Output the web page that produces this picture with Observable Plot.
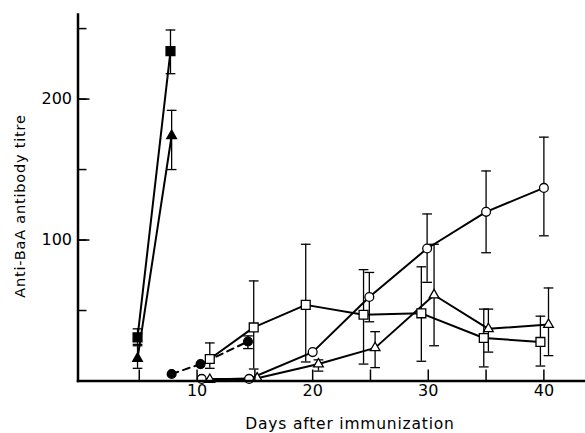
<!DOCTYPE html>
<html>
<head>
<meta charset="utf-8">
<script src="https://cdn.jsdelivr.net/npm/d3@7"></script>
<script src="https://cdn.jsdelivr.net/npm/@observablehq/plot@0.6"></script>
<style>
  html, body { margin: 0; padding: 0; background: #fff; }
  #chart svg { display: block; }
</style>
</head>
<body>
<div id="chart"></div>
<script>
// ---- data ----
const sqFilledDays = [4.85, 7.7];
const sqFilledVals = [31, 234];
const sqFilledLo = [26, 218];
const sqFilledHi = [37, 249];

const triFilledDays = [4.85, 7.8];
const triFilledVals = [16, 174];
const triFilledLo = [9, 150];
const triFilledHi = [25, 192];

const circFilledDays = [7.8, 10.3, 14.4];
const circFilledVals = [5, 12, 28];
const circFilledLo = [null, null, 23];
const circFilledHi = [null, null, 32];

const sqOpenDays = [11.1, 14.9, 19.4, 24.4, 29.4, 34.8, 39.7];
const sqOpenVals = [15.6, 38, 54, 47, 48, 30.5, 27.7];
const sqOpenLo = [9, 8.5, 13.5, 12, 14, 10, 10.6];
const sqOpenHi = [27, 71, 97, 79, 81, 51, 46];

const circOpenDays = [10.4, 14.5, 20, 24.9, 29.9, 35, 40];
const circOpenVals = [1.5, 1.5, 20.5, 59.6, 94, 120, 137];
const circOpenLo = [null, null, null, 42, 70, 91, 103];
const circOpenHi = [null, null, null, 77, 118.5, 149, 173];

const triOpenDays = [11.1, 15.2, 20.5, 25.4, 30.5, 35.2, 40.4];
const triOpenVals = [1, 2, 12, 23.5, 61, 37, 40];
const triOpenLo = [null, null, 7, 9.5, 25, 20.5, 18];
const triOpenHi = [null, null, 15, 35, 97, 51, 66];

const yTicksAll = [50, 100, 150, 200, 250];
const yTickLabels = [100, 200];
const xTicksAll = [5, 10, 15, 20, 25, 30, 35, 40];
const xTickLabels = [10, 20, 30, 40];

const xTitle = "Days after immunization";
const yTitle = "Anti-BaA antibody titre";

// ---- build series table ----
function series(name, symbol, fill, dashed, days, vals, lo, hi) {
  return days.map((d, i) => ({name, symbol, fill, dashed, day: d, value: vals[i], lo: lo[i], hi: hi[i]}));
}
const all = [
  ...series("sqF", "square", "black", false, sqFilledDays, sqFilledVals, sqFilledLo, sqFilledHi),
  ...series("triF", "triangle", "black", false, triFilledDays, triFilledVals, triFilledLo, triFilledHi),
  ...series("circF", "circle", "black", true, circFilledDays, circFilledVals, circFilledLo, circFilledHi),
  ...series("sqO", "square", "white", false, sqOpenDays, sqOpenVals, sqOpenLo, sqOpenHi),
  ...series("circO", "circle", "white", false, circOpenDays, circOpenVals, circOpenLo, circOpenHi),
  ...series("triO", "triangle", "white", false, triOpenDays, triOpenVals, triOpenLo, triOpenHi)
];
const solid = all.filter(d => !d.dashed);
const dashed = all.filter(d => d.dashed);
const errs = all.filter(d => d.lo != null && d.hi != null);
const capHalf = 0.42;
const caps = errs.flatMap(d => [{...d, cy: d.lo}, {...d, cy: d.hi}]);

const font = "'DejaVu Sans', sans-serif";

const plot = Plot.plot({
  width: 585,
  height: 433,
  marginLeft: 77.5,
  marginRight: 0,
  marginTop: 14,
  marginBottom: 52.5,
  style: {fontFamily: font, background: "white", color: "black"},
  x: {domain: [-0.3, 43.6]},
  y: {domain: [0, 260]},
  marks: [
    // error bars
    Plot.ruleX(errs, {x: "day", y1: "lo", y2: "hi", stroke: "black", strokeWidth: 1.3}),
    Plot.link(caps, {x1: d => d.day - capHalf, x2: d => d.day + capHalf, y1: "cy", y2: "cy", stroke: "black", strokeWidth: 1.3}),
    // connecting lines
    Plot.line(solid, {x: "day", y: "value", z: "name", stroke: "black", strokeWidth: 2}),
    Plot.line(dashed, {x: "day", y: "value", z: "name", stroke: "black", strokeWidth: 2, strokeDasharray: "7,5"}),
    // markers
    Plot.dot(all.filter(d => d.symbol === "circle"), {x: "day", y: "value", symbol: "circle", r: 4.4, fill: d => d.fill, stroke: "black", strokeWidth: 1.3}),
    Plot.dot(all.filter(d => d.symbol === "square"), {x: "day", y: "value", symbol: "square", r: 5, fill: d => d.fill, stroke: "black", strokeWidth: 1.3}),
    Plot.dot(all.filter(d => d.symbol === "triangle"), {x: "day", y: "value", symbol: "triangle", r: 3.6, fill: d => d.fill, stroke: "black", strokeWidth: 1.3}),
    // axes
    Plot.axisY({ticks: yTicksAll, tickSize: -9, tickFormat: () => "", strokeWidth: 1.5, label: null}),
    Plot.axisY({ticks: yTickLabels, tickSize: -12, tickPadding: 18, fontSize: 16, strokeWidth: 1.5, label: null}),
    Plot.axisX({ticks: xTicksAll, tickSize: -11, tickFormat: () => "", strokeWidth: 1.5, label: null}),
    Plot.axisX({ticks: xTickLabels, tickSize: 0, tickPadding: 4, fontSize: 16, label: null}),
    Plot.frame({anchor: "left", strokeWidth: 2.5, stroke: "black"}),
    Plot.frame({anchor: "bottom", strokeWidth: 2.5, stroke: "black"})
  ]
});

// titles as real text inside the svg
const svg = d3.select(plot);
svg.append("text")
  .attr("x", 350).attr("y", 429)
  .attr("text-anchor", "middle")
  .attr("font-family", font).attr("font-size", 15.5)
  .attr("letter-spacing", 0.8)
  .text(xTitle);
svg.append("text")
  .attr("transform", "translate(25,206) rotate(-90)")
  .attr("text-anchor", "middle")
  .attr("font-family", font).attr("font-size", 14.5)
  .attr("letter-spacing", 0.8)
  .text(yTitle);

document.getElementById("chart").appendChild(plot);
</script>
</body>
</html>
